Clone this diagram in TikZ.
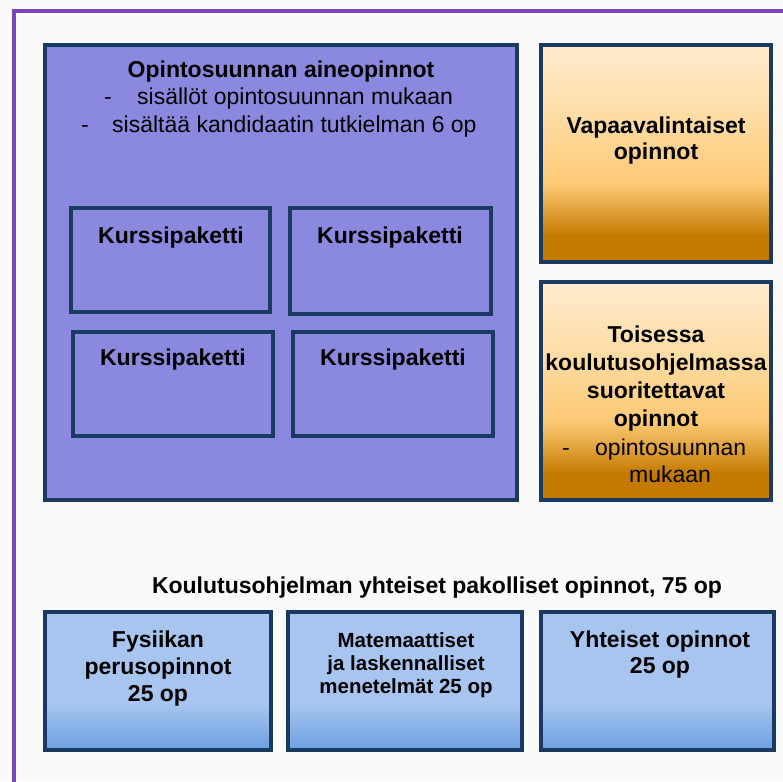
\documentclass[tikz,border=0pt]{standalone}
\usepackage{fontspec}
\setmainfont{Liberation Sans}
\usetikzlibrary{shadings}
\definecolor{bgc}{HTML}{FAFAFA}
\definecolor{framec}{HTML}{7E45B8}
\definecolor{navy}{HTML}{1B3A62}
\definecolor{violetfill}{HTML}{8B88E0}
\definecolor{ortop}{HTML}{FFECCF}
\definecolor{orup}{HTML}{FEDCA3}
\definecolor{ormid}{HTML}{FDC975}
\definecolor{orbot}{HTML}{C47A00}
\definecolor{bltop}{HTML}{A7C5EF}
\definecolor{blbot}{HTML}{70A2E2}
\pgfdeclareverticalshading{orshade}{100bp}{color(0bp)=(orbot); color(31bp)=(orbot); color(43bp)=(ormid); color(58bp)=(orup); color(75bp)=(ortop); color(100bp)=(ortop)}
\pgfdeclareverticalshading{blshade}{100bp}{color(0bp)=(blbot); color(26bp)=(blbot); color(42bp)=(bltop); color(100bp)=(bltop)}
\tikzset{
  boxframe/.style={draw=navy, line width=4.5pt},
  titletext/.style={font=\bfseries\fontsize{23}{27}\selectfont, align=center, inner sep=0pt, anchor=base},
  plaintext/.style={font=\fontsize{23}{27}\selectfont, inner sep=0pt, anchor=base west},
  kptext/.style={font=\bfseries\fontsize{23}{27}\selectfont, inner sep=0pt, anchor=base},
}
\begin{document}
\begin{tikzpicture}[x=1pt,y=-1pt]
\useasboundingbox (0,0) rectangle (783,781);
\fill[bgc] (0,0) rectangle (783,781);
% outer frame
\draw[framec, line width=3.5pt] (14,800) -- (14,11) -- (800,11);
% main purple box
\draw[boxframe, fill=violetfill] (45,45) rectangle (517,500);
\node[titletext] (maint) at (281,78) {Opintosuunnan aineopinnot};
\node[plaintext] (d1) at (104,105) {-};
\node[plaintext] (l1) at (137,105) {sisällöt opintosuunnan mukaan};
\node[plaintext] (d2) at (81,132) {-};
\node[plaintext] (l2) at (112,132) {sisältää kandidaatin tutkielman 6 op};
% course packages
\draw[boxframe, line width=4pt] (71,208) rectangle (270,312);
\node[kptext] (k1) at (171,243) {Kurssipaketti};
\draw[boxframe, line width=4pt] (290,208) rectangle (491,314);
\node[kptext] (k2) at (390,243) {Kurssipaketti};
\draw[boxframe, line width=4pt] (73,332) rectangle (273,436);
\node[kptext] (k3) at (173,365) {Kurssipaketti};
\draw[boxframe, line width=4pt] (293,332) rectangle (493,436);
\node[kptext] (k4) at (393,365) {Kurssipaketti};
% orange boxes
\draw[boxframe, shading=orshade] (541,45) rectangle (771,262);
\node[titletext, font=\bfseries\fontsize{23}{26}\selectfont] (vap) at (656,159) {Vapaavalintaiset\\opinnot};
\draw[boxframe, shading=orshade] (541,282) rectangle (771,500);
\node[titletext, font=\bfseries\fontsize{23}{28}\selectfont] (tois) at (656,426) {Toisessa\\koulutusohjelmassa\\suoritettavat\\opinnot};
\node[plaintext] (d3) at (562,455) {-};
\node[plaintext] (l3) at (595,455) {opintosuunnan};
\node[plaintext, anchor=base] (l4) at (670,482) {mukaan};
% bottom title
\node[titletext] (yht) at (437,593) {Koulutusohjelman yhteiset pakolliset opinnot, 75 op};
% blue boxes
\draw[boxframe, shading=blshade] (45,612) rectangle (271,750);
\node[titletext] (fys) at (158,701) {Fysiikan\\perusopinnot\\25 op};
\draw[boxframe, shading=blshade] (288,612) rectangle (522,750);
\node[titletext, font=\bfseries\fontsize{20.5}{23}\selectfont] (mat) at (406,693) {Matemaattiset\\ja laskennalliset\\menetelmät 25 op};
\draw[boxframe, shading=blshade] (541,612) rectangle (774,750);
\node[titletext, font=\bfseries\fontsize{23}{26}\selectfont] (yo) at (660,673) {Yhteiset opinnot\\25 op};
\end{tikzpicture}
\end{document}
